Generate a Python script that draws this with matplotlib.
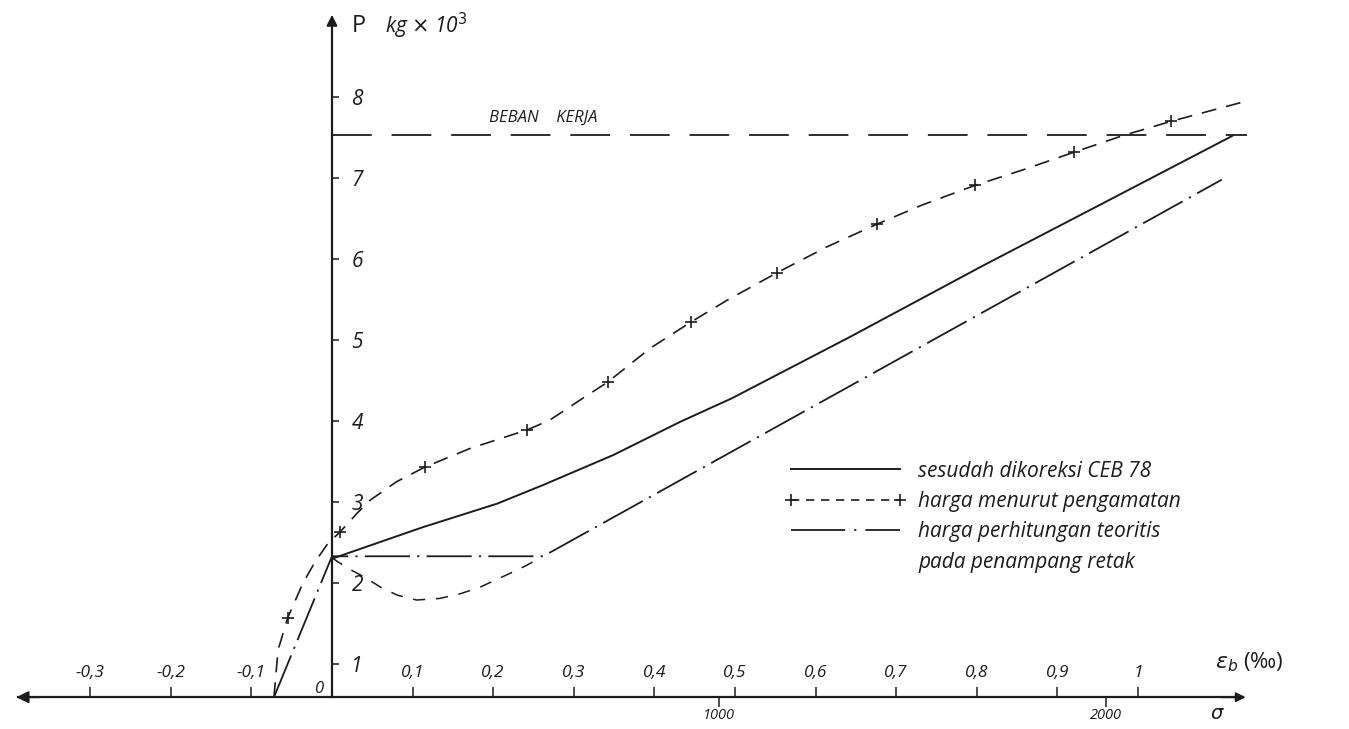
import matplotlib
matplotlib.use("Agg")
import matplotlib.pyplot as plt
from matplotlib.lines import Line2D

# regangan beton eps_b (per mil) terhadap beban P (kg x 10^3)
eps_koreksi = [0.0, 0.113, 0.205, 0.262, 0.349, 0.432, 0.496, 0.643, 0.808, 0.953, 1.117]
p_koreksi = [2.30, 2.69, 2.98, 3.21, 3.58, 3.99, 4.28, 5.04, 5.92, 6.67, 7.52]

eps_amat = [-0.072, -0.067, -0.055, -0.036, -0.021, -0.005, 0.010, 0.031, 0.047, 0.080,
            0.115, 0.171, 0.242, 0.270, 0.311, 0.342, 0.395, 0.445, 0.490, 0.552,
            0.614, 0.676, 0.733, 0.798, 0.857, 0.921, 0.980, 1.041, 1.127]
p_amat = [0.59, 1.17, 1.57, 2.00, 2.26, 2.49, 2.63, 2.86, 3.02, 3.25,
          3.43, 3.66, 3.89, 4.01, 4.28, 4.48, 4.90, 5.22, 5.49, 5.83,
          6.15, 6.43, 6.67, 6.91, 7.10, 7.32, 7.52, 7.70, 7.93]
titik_amat = [2, 6, 10, 12, 15, 17, 19, 21, 23, 25, 27]

eps_teori = [-0.072, 0.0, 0.262, 1.104]
p_teori = [0.59, 2.33, 2.33, 6.98]

eps_lengkung = [0.0, 0.020, 0.041, 0.060, 0.081, 0.105, 0.134, 0.160, 0.184, 0.221, 0.240, 0.258]
p_lengkung = [2.31, 2.18, 2.07, 1.95, 1.85, 1.79, 1.81, 1.87, 1.95, 2.12, 2.21, 2.31]

beban_kerja = 7.53
p_sumbu = 0.59  # letak garis sumbu mendatar

x_ticks = [-0.3, -0.2, -0.1, 0.1, 0.2, 0.3, 0.4, 0.5, 0.6, 0.7, 0.8, 0.9, 1.0]
x_labels = ["-0,3", "-0,2", "-0,1", "0,1", "0,2", "0,3", "0,4", "0,5", "0,6", "0,7", "0,8", "0,9", "1"]
y_ticks = [1, 2, 3, 4, 5, 6, 7, 8]
sigma_ticks = [1000, 2000]

plt.rcParams["font.family"] = ["Open Sans", "DejaVu Sans"]
ink = "#1c1c1c"

fig = plt.figure(figsize=(13.49, 7.29), dpi=100)
ax = fig.add_axes([0, 0, 1, 1])
y_min, y_max = 0.1975, 9.198
ax.set_xlim(-0.4119, 1.2618)
ax.set_ylim(y_min, y_max)

# sumbu: garis mendatar di p_sumbu, tegak di eps = 0
for s in ["left", "bottom"]:
    ax.spines[s].set_visible(False)
ax.spines["top"].set_position(("data", p_sumbu))
ax.spines["right"].set_position(("data", 0))
ax.spines["top"].set_bounds(-0.39, 1.13)
ax.spines["right"].set_bounds(p_sumbu, 8.95)
for s in ["top", "right"]:
    ax.spines[s].set_color(ink)
    ax.spines[s].set_linewidth(1.6)
ax.xaxis.set_ticks_position("top")
ax.yaxis.set_ticks_position("right")
ax.set_xticks(x_ticks, x_labels, fontsize=12.5, fontstyle="italic")
ax.set_yticks(y_ticks, [str(v) for v in y_ticks], fontsize=15, fontstyle="italic")
ax.tick_params(axis="x", direction="out", length=7, width=1.1, pad=5, colors=ink)
ax.tick_params(axis="y", direction="out", length=5, width=1.1, pad=9, colors=ink)

ax.annotate("", xy=(-0.395, p_sumbu), xytext=(-0.36, p_sumbu),
            arrowprops=dict(arrowstyle="-|>", color=ink, lw=1.4, mutation_scale=18))
ax.annotate("", xy=(1.137, p_sumbu), xytext=(1.10, p_sumbu),
            arrowprops=dict(arrowstyle="-|>", color=ink, lw=1.4, mutation_scale=14))
ax.annotate("", xy=(0, 9.05), xytext=(0, 8.75),
            arrowprops=dict(arrowstyle="-|>", color=ink, lw=1.4, mutation_scale=16))

# skala tegangan sigma di bawah sumbu
k_sigma = 1000 / 0.48
sec = ax.secondary_xaxis((p_sumbu - y_min) / (y_max - y_min),
                         functions=(lambda e: e * k_sigma, lambda s: s / k_sigma))
sec.spines["bottom"].set_visible(False)
sec.spines["top"].set_visible(False)
sec.set_xticks(sigma_ticks, [str(v) for v in sigma_ticks], fontsize=10.5, fontstyle="italic")
sec.tick_params(axis="x", direction="out", length=7, width=1.1, pad=1, colors=ink)

# kurva
ax.plot(eps_koreksi, p_koreksi, color=ink, lw=1.4, solid_capstyle="round")
ax.plot(eps_amat, p_amat, color=ink, lw=1.2, linestyle=(0, (9, 6)),
        marker="+", markevery=titik_amat, markersize=8, markeredgewidth=1.2)
ax.plot(eps_teori, p_teori, color=ink, lw=1.3, linestyle=(0, (25, 4, 1.2, 4)))
ax.plot(eps_lengkung, p_lengkung, color=ink, lw=1.1, linestyle=(0, (8, 7)))
ax.hlines(beban_kerja, 0, 1.135, color=ink, lw=1.3, linestyles=[(0, (22, 11))])

# teks
ax.text(0.195, beban_kerja + 0.12, "BEBAN    KERJA", fontsize=12, fontstyle="italic",
        color=ink, ha="left", va="bottom")
ax.text(0.025, 8.88, "P", fontsize=17, color=ink, va="center", ha="left")
ax.text(0.066, 8.88, r"kg $\times$ 10$^3$", fontsize=15, fontstyle="italic",
        color=ink, va="center", ha="left")
ax.text(-0.017, 0.69, "0", fontsize=12, fontstyle="italic", color=ink, ha="center", va="center")
ax.text(1.095, 1.02, r"$\varepsilon_b$ (‰)", fontsize=16, color=ink, ha="left", va="center")
ax.text(1.099, 0.38, r"$\sigma$", fontsize=14, color=ink, ha="center", va="center")

handles = [
    Line2D([], [], color=ink, lw=1.4),
    Line2D([], [], color=ink, lw=1.2, linestyle=(0, (5, 4)), marker="+",
           markersize=9, markeredgewidth=1.2),
    Line2D([], [], color=ink, lw=1.3, linestyle=(0, (30, 5, 1.2, 5))),
    Line2D([], [], alpha=0),
]
labels = [
    "sesudah dikoreksi CEB 78",
    "harga menurut pengamatan",
    "harga perhitungan teoritis",
    "pada penampang retak",
]
leg = ax.legend(handles, labels, loc="upper left", bbox_to_anchor=(0.582, 0.368),
                frameon=False, fontsize=15, handlelength=5.8, handletextpad=0.6,
                labelspacing=0.45, borderpad=0, borderaxespad=0, numpoints=2)
for t in leg.get_texts():
    t.set_fontstyle("italic")
    t.set_color(ink)

fig.savefig("out.png", dpi=100, facecolor="white")
